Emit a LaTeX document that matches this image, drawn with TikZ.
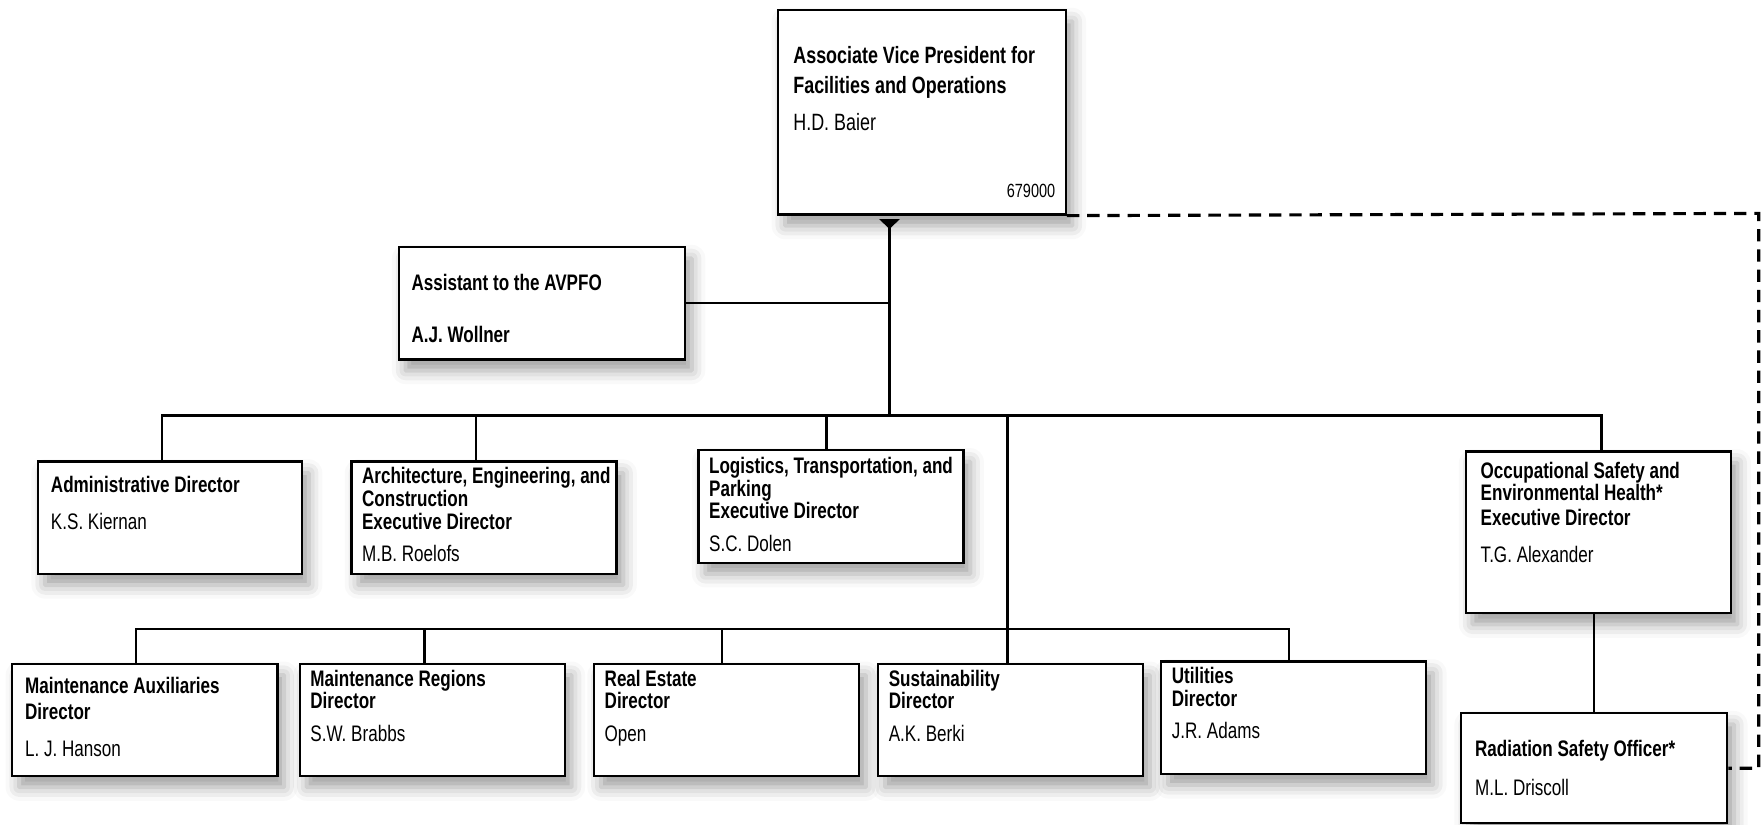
\documentclass[tikz,border=0pt]{standalone}
\usepackage{fontspec}
\setmainfont{Liberation Sans}[FakeStretch=0.76]
\usetikzlibrary{arrows.meta,shadows.blur}

\begin{document}
\begin{tikzpicture}[x=0.5pt,y=-0.5pt]
\tikzstyle{every node}+=[inner sep=0pt]
\tikzstyle{orgbox}=[draw=black,line width=1pt,fill=white,anchor=north west,blur shadow={shadow xshift=3pt,shadow yshift=-5pt,shadow blur radius=6pt,shadow opacity=38}]
\tikzstyle{orgtext}=[anchor=north west,align=left,font=\fontsize{10}{10}\selectfont\bfseries]
\tikzstyle{orgline}=[line width=1pt]
\tikzstyle{dotline}=[line width=1.4pt,dash pattern=on 5.5pt off 3.5pt]
\useasboundingbox (0,0) rectangle (1568,734);
\node [orgbox,minimum width=128pt,minimum height=91pt] (avp) at (692,8) {};
\node [orgbox,minimum width=127.5pt,minimum height=50pt] (asst) at (354,219) {};
\node [orgbox,minimum width=117.5pt,minimum height=50pt] (admin) at (33,410) {};
\node [orgbox,minimum width=118pt,minimum height=50pt] (aec) at (312,410) {};
\node [orgbox,minimum width=118pt,minimum height=50pt] (log) at (621,400) {};
\node [orgbox,minimum width=118pt,minimum height=72pt] (osh) at (1304,401) {};
\node [orgbox,minimum width=118.5pt,minimum height=49pt] (rad) at (1300,634) {};
\node [orgbox,minimum width=118pt,minimum height=50pt] (ma) at (10,590) {};
\node [orgbox,minimum width=118pt,minimum height=50pt] (mr) at (266,590) {};
\node [orgbox,minimum width=118pt,minimum height=50pt] (re) at (528,590) {};
\node [orgbox,minimum width=118pt,minimum height=50pt] (sus) at (781,590) {};
\node [orgbox,minimum width=118pt,minimum height=50pt] (uti) at (1033,588) {};
\node [orgtext,font=\fontsize{10.5}{10}\selectfont\bfseries] (avp-t) at (706,41) {Associate Vice President for\\[3.5pt]Facilities and Operations\\[6.5pt]{\mdseries H.D. Baier}};
\node [anchor=base east,font=\fontsize{8.5}{8.5}\selectfont] (avp-n) at (940,176) {679000};
\node [orgtext] (asst-t) at (366,244) {Assistant to the AVPFO\\[13pt]A.J. Wollner};
\node [orgtext] (admin-t) at (45,424) {Administrative Director\\[6.5pt]{\mdseries K.S. Kiernan}};
\node [orgtext] (aec-t) at (322,416) {Architecture, Engineering, and\\Construction\\[0.5pt]Executive Director\\[4pt]{\mdseries M.B. Roelofs}};
\node [orgtext] (log-t) at (631,407) {Logistics, Transportation, and\\Parking\\Executive Director\\[4.5pt]{\mdseries S.C. Dolen}};
\node [orgtext] (osh-t) at (1318,411) {Occupational Safety and\\Environmental Health*\\[1pt]Executive Director\\[6.5pt]{\mdseries T.G. Alexander}};
\node [orgtext] (rad-t) at (1313,659) {Radiation Safety Officer*\\[7pt]{\mdseries M.L. Driscoll}};
\node [orgtext] (ma-t) at (22,603) {Maintenance Auxiliaries\\[1.5pt]Director\\[6.5pt]{\mdseries L. J. Hanson}};
\node [orgtext] (mr-t) at (276,596) {Maintenance Regions\\Director\\[4.5pt]{\mdseries S.W. Brabbs}};
\node [orgtext] (re-t) at (538,596) {Real Estate\\Director\\[4.5pt]{\mdseries Open}};
\node [orgtext] (sus-t) at (791,596) {Sustainability\\Director\\[4.5pt]{\mdseries A.K. Berki}};
\node [orgtext] (uti-t) at (1043,594) {Utilities\\Director\\[4.5pt]{\mdseries J.R. Adams}};
\coordinate (spine) at (792,370);
\coordinate (busa) at (144,370);
\coordinate (busb) at (1426,370);
\coordinate (dropa) at (424,370);
\coordinate (dropb) at (736,370);
\coordinate (subspine) at (897,370);
\coordinate (bus2a) at (121,560);
\coordinate (bus2b) at (1148,560);
\coordinate (drop2a) at (378,560);
\coordinate (drop2b) at (643,560);
\coordinate (dashturn) at (1566,190);
\draw [orgline,{Triangle[length=4.5pt,width=9pt,reversed]}-] ([yshift=-1.5pt]spine |- avp.south) -- (spine);
\draw [orgline] (asst.east) -- (asst.east -| spine);
\draw [orgline] (busa |- admin.north) -- (busa) -- (busb) -- (busb |- osh.north);
\draw [orgline] (dropa) -- (dropa |- aec.north);
\draw [orgline] (dropb) -- (dropb |- log.north);
\draw [orgline] (subspine) -- (subspine |- sus.north);
\draw [orgline] (bus2a |- ma.north) -- (bus2a) -- (bus2b) -- (bus2b |- uti.north);
\draw [orgline] (drop2a) -- (drop2a |- mr.north);
\draw [orgline] (drop2b) -- (drop2b |- re.north);
\draw [orgline] (osh.south -| rad.north) -- (rad.north);
\draw [dotline] (avp.south east) -- (dashturn) |- (rad.east);
\end{tikzpicture}
\end{document}
